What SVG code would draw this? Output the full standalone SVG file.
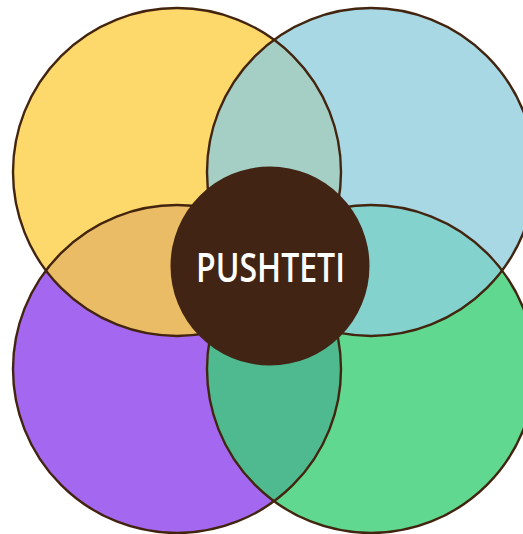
<svg xmlns="http://www.w3.org/2000/svg" width="523" height="534" viewBox="0 0 523 534">
  <style>
    .outline { fill: none; stroke: #42240F; stroke-width: 2.4; }
    .label { font-family: "Open Sans", "DejaVu Sans", sans-serif; font-size: 39px; font-weight: 600; fill: #FFFFFF; }
  </style>
  <defs>
    <clipPath id="clipYellow"><circle cx="177" cy="172" r="164"/></clipPath>
    <clipPath id="clipGreen"><circle cx="371" cy="369" r="164"/></clipPath>
  </defs>
  <rect width="523" height="534" fill="#FFFFFF"/>
  <g id="circle-yellow"><circle cx="177" cy="172" r="164" fill="#FDD96B"/></g>
  <g id="circle-blue"><circle cx="371" cy="172" r="164" fill="#A7D8E3"/></g>
  <g id="circle-purple"><circle cx="177" cy="369" r="164" fill="#A467F0"/></g>
  <g id="circle-green"><circle cx="371" cy="369" r="164" fill="#60D890"/></g>
  <g id="overlaps">
    <circle cx="371" cy="172" r="164" fill="#A5CFC5" clip-path="url(#clipYellow)"/>
    <circle cx="177" cy="369" r="164" fill="#EBBC66" clip-path="url(#clipYellow)"/>
    <circle cx="371" cy="172" r="164" fill="#84D2CD" clip-path="url(#clipGreen)"/>
    <circle cx="177" cy="369" r="164" fill="#4FBA8F" clip-path="url(#clipGreen)"/>
  </g>
  <g id="outlines">
    <circle class="outline" cx="177" cy="172" r="164"/>
    <circle class="outline" cx="371" cy="172" r="164"/>
    <circle class="outline" cx="177" cy="369" r="164"/>
    <circle class="outline" cx="371" cy="369" r="164"/>
  </g>
  <g id="center">
    <circle cx="270" cy="266" r="99.5" fill="#412414"/>
    <text class="label" x="196" y="282" textLength="149" lengthAdjust="spacingAndGlyphs">PUSHTETI</text>
  </g>
</svg>
